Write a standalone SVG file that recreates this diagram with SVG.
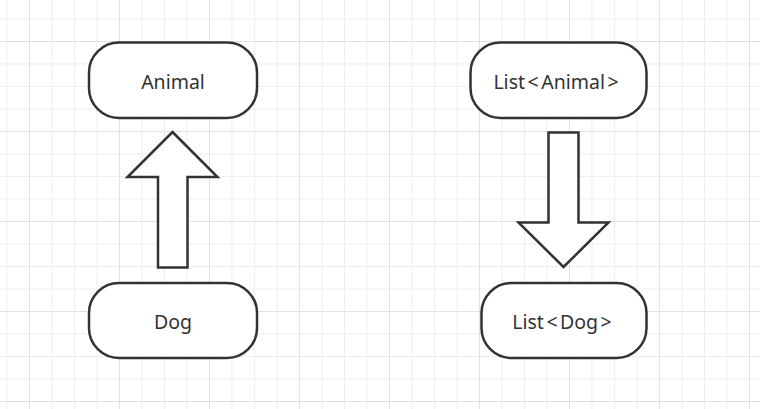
<svg xmlns="http://www.w3.org/2000/svg" width="760" height="409" viewBox="0 0 760 409">
<defs>
<pattern id="minor" x="6.5" y="18.5" width="22.5" height="22.5" patternUnits="userSpaceOnUse">
<path d="M0 0.5H22.5M0.5 0V22.5" fill="none" stroke="#eeeeee" stroke-width="1"/>
</pattern>
<pattern id="major" x="29" y="41" width="90" height="90" patternUnits="userSpaceOnUse">
<path d="M0 0.5H90M0.5 0V90" fill="none" stroke="#e2e2e2" stroke-width="1"/>
</pattern>
</defs>
<style>
.node rect{fill:#fff;stroke:#333;stroke-width:2.5}
.node text{font-family:"Noto Sans","Liberation Sans",sans-serif;font-size:19.5px;fill:#333;text-anchor:middle}
.arrow{fill:#fff;stroke:#333;stroke-width:2.5;stroke-linejoin:miter}
</style>
<rect width="760" height="409" fill="#fff"/>
<rect width="760" height="409" fill="url(#minor)"/>
<rect width="760" height="409" fill="url(#major)"/>
<g id="connectors">
<polygon class="arrow" points="172.5,132 217.5,177 187.5,177 187.5,267.5 158,267.5 158,177 127.5,177"/>
<polygon class="arrow" points="548.5,132.5 578.5,132.5 578.5,222.5 608.5,222.5 563.5,267 518.5,222.5 548.5,222.5"/>
</g>
<g id="animal" class="node"><rect x="89" y="42.5" width="168" height="75.5" rx="30" ry="30"/><text x="173" y="88.5">Animal</text></g>
<g id="dog" class="node"><rect x="89" y="283" width="168" height="75" rx="30" ry="30"/><text x="173" y="329">Dog</text></g>
<g id="list-animal" class="node"><rect x="470.5" y="42.5" width="176" height="75.5" rx="30" ry="30"/><text x="556" y="88.5">List<tspan dx="2.5">&lt;</tspan><tspan dx="2.5">Animal</tspan><tspan dx="2.5">&gt;</tspan></text></g>
<g id="list-dog" class="node"><rect x="481.5" y="283" width="165" height="75" rx="30" ry="30"/><text x="562" y="329">List<tspan dx="2.5">&lt;</tspan><tspan dx="2.5">Dog</tspan><tspan dx="2.5">&gt;</tspan></text></g>
</svg>
